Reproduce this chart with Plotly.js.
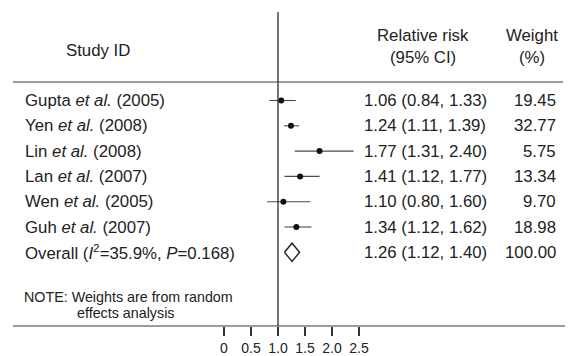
<!DOCTYPE html>
<html>
<head>
<meta charset="utf-8">
<script src="https://cdn.plot.ly/plotly-3.0.1.min.js"></script>
<style>html,body{margin:0;padding:0;background:#fff;}#chart{width:569px;height:356px;}</style>
</head>
<body>
<div id="chart"></div>
<script>
// ---- data ----
const studies = ["Gupta <i>et al.</i> (2005)", "Yen <i>et al.</i> (2008)", "Lin <i>et al.</i> (2008)", "Lan <i>et al.</i> (2007)", "Wen <i>et al.</i> (2005)", "Guh <i>et al.</i> (2007)"];
const rr = [1.06, 1.24, 1.77, 1.41, 1.10, 1.34];
const lower = [0.84, 1.11, 1.31, 1.12, 0.80, 1.12];
const upper = [1.33, 1.39, 2.40, 1.77, 1.60, 1.62];
const weights = ["19.45", "32.77", "5.75", "13.34", "9.70", "18.98"];
const overallLabel = "Overall (<i>I</i><sup>2</sup>=35.9%, <i>P</i>=0.168)";
const overallRR = 1.26;
const overallLower = 1.12;
const overallUpper = 1.40;
const overallWeight = "100.00";
const tickVals = [0, 0.5, 1.0, 1.5, 2.0, 2.5];
const tickText = ["0", "0.5", "1.0", "1.5", "2.0", "2.5"];

// ---- layout helpers ----
const W = 569, H = 356, B = 30, PH = H - B;
const px = p => p / W;               // x pixel -> paper
const py = p => (PH - p) / PH;       // y pixel -> paper
const FONT = "Liberation Sans, Arial, sans-serif";
const TXT = "#222";
const FS = 16.8;
const rows = studies.map((_, i) => i + 1);
const overallRow = studies.length + 1;
const fmt = v => v.toFixed(2);

const traces = [
  {
    type: "scatter", mode: "markers",
    x: rr, y: rows,
    marker: {color: "#111", size: 6, symbol: "circle"},
    error_x: {type: "data", symmetric: false,
      array: rr.map((v, i) => upper[i] - v),
      arrayminus: rr.map((v, i) => v - lower[i]),
      width: 0, thickness: 1.1, color: "#4a4a4a"},
    hoverinfo: "skip", showlegend: false
  },
  {
    type: "scatter", mode: "lines",
    x: [overallLower, overallRR, overallUpper, overallRR, overallLower],
    y: [overallRow, overallRow - 0.36, overallRow, overallRow + 0.36, overallRow],
    fill: "toself", fillcolor: "#fff",
    line: {color: "#222", width: 1.4},
    hoverinfo: "skip", showlegend: false
  }
];

const ann = [];
function t(text, x, y, opts) {
  ann.push(Object.assign({text, x, y, xref: "paper", yref: "paper",
    xanchor: "left", yanchor: "middle", showarrow: false,
    font: {family: FONT, size: FS, color: TXT}}, opts || {}));
}
t("Study ID", px(98), py(51), {xanchor: "center"});
t("Relative risk", px(423), py(35), {xanchor: "center"});
t("(95% CI)", px(423), py(57), {xanchor: "center"});
t("Weight", px(532), py(35), {xanchor: "center"});
t("(%)", px(532), py(57), {xanchor: "center"});

const allLabels = studies.concat([overallLabel]);
const allRR = rr.concat([overallRR]);
const allLo = lower.concat([overallLower]);
const allHi = upper.concat([overallUpper]);
const allW = weights.concat([overallWeight]);
allLabels.forEach((lab, i) => {
  const r = i + 1;
  ann.push({text: lab, x: px(23), xref: "paper", y: r, yref: "y", xanchor: "left", yanchor: "middle",
    showarrow: false, font: {family: FONT, size: FS, color: TXT}});
  ann.push({text: fmt(allRR[i]) + " (" + fmt(allLo[i]) + ", " + fmt(allHi[i]) + ")",
    x: px(362), xref: "paper", y: r, yref: "y", xanchor: "left", yanchor: "middle",
    showarrow: false, font: {family: FONT, size: FS, color: TXT}});
  ann.push({text: allW[i], x: px(558), xref: "paper", y: r, yref: "y", xanchor: "right", yanchor: "middle",
    showarrow: false, font: {family: FONT, size: FS, color: TXT}});
});
t("NOTE: Weights are from random", px(22), py(297), {font: {family: FONT, size: 14.3, color: TXT}});
t("effects analysis", px(125), py(313), {xanchor: "center", font: {family: FONT, size: 14.3, color: TXT}});

// y range so rows sit at measured pixel positions
const row1Px = 100.5, rowStep = 25.3;
const yTop = 1 - row1Px / rowStep;
const yBot = 1 + (PH - row1Px) / rowStep;
// x range: value 0 at 224px, 54px per unit
const x0px = 224, unit = 54;

const layout = {
  width: W, height: H,
  margin: {l: 0, r: 0, t: 0, b: B, pad: 0},
  paper_bgcolor: "#fff", plot_bgcolor: "#fff",
  showlegend: false,
  xaxis: {range: [-x0px / unit, (W - x0px) / unit], tickvals: tickVals, ticktext: tickText,
    ticks: "outside", ticklen: 9, tickwidth: 1.1, tickcolor: "#333",
    showgrid: false, zeroline: false, showline: false,
    tickfont: {family: FONT, size: 14, color: TXT}},
  yaxis: {range: [yBot, yTop], visible: false, showgrid: false, zeroline: false},
  shapes: [
    {type: "line", xref: "x", yref: "paper", x0: 1, x1: 1, y0: py(12), y1: 0, line: {color: "#2a2a2a", width: 1.3}},
    {type: "line", xref: "paper", yref: "paper", x0: px(13), x1: px(563), y0: py(82), y1: py(82), line: {color: "#3a3a3a", width: 1.1}},
    {type: "line", xref: "paper", yref: "paper", x0: px(13), x1: px(565), y0: 0, y1: 0, line: {color: "#3a3a3a", width: 1.1}}
  ],
  annotations: ann
};

Plotly.newPlot("chart", traces, layout, {staticPlot: true, displayModeBar: false});
</script>
</body>
</html>
